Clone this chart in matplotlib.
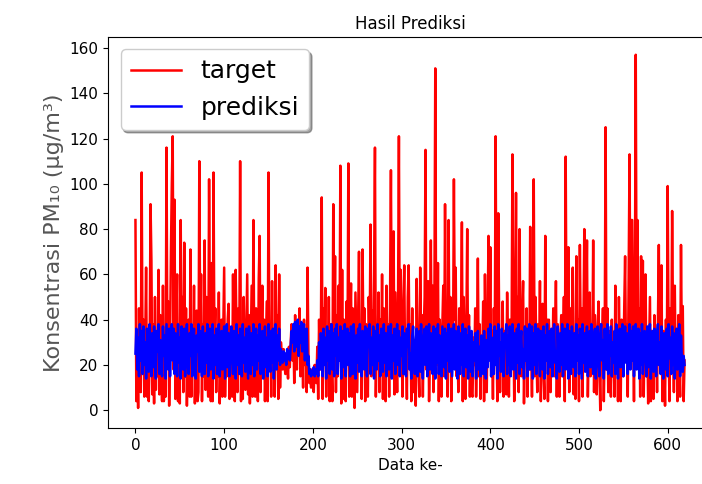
"hasil prediksi - target vs prediksi PM10"
import numpy as np
import matplotlib.pyplot as plt

"data (dibaca dari gambar)"
target = [
    84, 4, 30, 1, 45, 18, 8, 105, 22, 40, 6, 28, 63, 6, 35, 4, 25, 91, 66, 7,
    38, 3, 50, 9, 30, 15, 62, 7, 42, 20, 4, 55, 4, 33, 6, 116, 25, 48, 2, 30,
    70, 100, 121, 18, 93, 5, 40, 60, 4, 35, 3, 84, 22, 50, 8, 74, 15, 45, 2, 28,
    40, 6, 71, 6, 32, 18, 55, 3, 25, 44, 4, 8, 110, 30, 60, 4, 38, 15, 75, 9,
    50, 20, 6, 102, 35, 4, 65, 4, 105, 28, 45, 8, 30, 15, 52, 3, 24, 40, 6, 33,
    63, 6, 28, 15, 40, 47, 5, 22, 35, 6, 60, 18, 4, 62, 30, 8, 45, 20, 110, 4,
    38, 5, 50, 25, 9, 33, 60, 7, 42, 3, 28, 55, 6, 84, 20, 6, 45, 32, 4, 58,
    77, 8, 30, 55, 15, 40, 4, 25, 48, 4, 105, 22, 38, 6, 57, 18, 30, 6, 64, 25,
    42, 5, 60, 10, 30, 24, 18, 27, 20, 16, 25, 22, 14, 28, 19, 30, 38, 22, 35, 12,
    42, 25, 18, 38, 30, 45, 15, 35, 28, 10, 40, 20, 32, 8, 63, 25, 12, 15, 10, 18,
    14, 8, 20, 16, 12, 28, 5, 40, 18, 30, 94, 5, 45, 22, 54, 6, 35, 15, 50, 4,
    38, 20, 4, 91, 30, 68, 8, 42, 15, 55, 25, 108, 3, 62, 5, 40, 28, 4, 48, 20,
    109, 6, 35, 56, 6, 45, 25, 1, 52, 30, 8, 40, 70, 18, 36, 5, 71, 28, 45, 4,
    38, 22, 6, 50, 30, 82, 15, 44, 25, 60, 116, 6, 35, 20, 52, 8, 40, 18, 60, 5,
    45, 28, 4, 55, 20, 38, 6, 48, 106, 25, 40, 79, 7, 52, 30, 8, 45, 121, 20, 62,
    35, 6, 42, 64, 18, 30, 5, 50, 64, 22, 38, 4, 45, 8, 28, 15, 2, 58, 30, 20,
    6, 63, 25, 42, 6, 35, 50, 115, 18, 40, 57, 4, 30, 75, 22, 55, 8, 45, 151, 30,
    20, 65, 4, 40, 25, 6, 38, 55, 15, 91, 30, 45, 6, 84, 22, 50, 4, 35, 28, 102,
    40, 63, 15, 30, 8, 45, 22, 38, 83, 4, 50, 25, 5, 35, 80, 18, 42, 6, 28, 7,
    6, 32, 20, 45, 6, 28, 67, 15, 38, 5, 30, 22, 48, 4, 60, 25, 8, 40, 77, 30,
    72, 15, 35, 5, 45, 20, 121, 30, 4, 87, 40, 8, 28, 18, 48, 6, 35, 22, 7, 52,
    25, 6, 40, 18, 30, 113, 45, 4, 35, 96, 20, 50, 8, 80, 28, 15, 42, 57, 3, 30,
    22, 45, 6, 35, 18, 81, 28, 6, 40, 102, 15, 50, 25, 8, 38, 20, 57, 4, 30, 47,
    18, 5, 77, 25, 40, 4, 40, 30, 8, 35, 20, 45, 15, 28, 57, 6, 38, 22, 6, 32,
    42, 15, 28, 50, 4, 112, 30, 20, 72, 8, 45, 25, 38, 63, 7, 30, 5, 68, 22, 40,
    4, 73, 28, 45, 6, 35, 80, 18, 40, 75, 6, 30, 52, 15, 38, 22, 75, 8, 42, 25,
    7, 35, 48, 20, 0, 38, 28, 45, 4, 30, 125, 18, 45, 8, 35, 22, 6, 40, 15, 28,
    6, 55, 20, 35, 4, 50, 25, 4, 40, 30, 15, 45, 68, 22, 38, 6, 60, 113, 28, 84,
    84, 35, 4, 50, 157, 30, 84, 20, 45, 6, 68, 25, 66, 6, 40, 60, 15, 32, 3, 28,
    50, 4, 35, 22, 5, 42, 18, 30, 8, 38, 73, 20, 45, 64, 4, 35, 25, 2, 40, 18,
    99, 30, 4, 45, 22, 88, 38, 8, 55, 15, 30, 4, 42, 20, 6, 73, 25, 46, 4, 22,
]

prediksi = [
    25, 36, 18, 32, 15, 38, 22, 35, 16, 37, 20, 30, 14, 36, 24, 17, 38, 28, 15, 34,
    19, 37, 22, 14, 35, 26, 38, 16, 31, 20, 15, 37, 24, 33, 14, 38, 28, 18, 36, 15,
    30, 38, 22, 36, 16, 34, 27, 15, 38, 21, 32, 14, 37, 25, 18, 36, 15, 30, 38, 20,
    16, 34, 24, 38, 15, 29, 36, 19, 14, 33, 26, 38, 17, 35, 22, 15, 37, 28, 16, 34,
    21, 38, 15, 30, 36, 18, 25, 38, 14, 33, 20, 36, 16, 28, 38, 15, 24, 35, 18, 31,
    37, 14, 26, 38, 19, 34, 15, 30, 37, 22, 16, 35, 28, 14, 38, 20, 33, 16, 36, 24,
    15, 38, 21, 32, 17, 36, 25, 14, 37, 29, 16, 34, 20, 38, 15, 27, 36, 18, 33, 22,
    38, 16, 30, 35, 14, 24, 37, 19, 32, 15, 38, 26, 17, 35, 21, 36, 14, 30, 38, 18,
    33, 22, 36, 20, 27, 24, 21, 26, 22, 25, 20, 27, 23, 26, 22, 28, 35, 30, 38, 26,
    39, 28, 34, 40, 24, 37, 30, 39, 26, 35, 38, 22, 33, 36, 20, 24, 16, 18, 15, 17,
    16, 19, 15, 18, 16, 22, 15, 30, 18, 34, 26, 15, 36, 20, 32, 14, 37, 22, 35, 16,
    30, 38, 18, 34, 15, 36, 24, 38, 16, 32, 22, 37, 14, 35, 27, 19, 38, 15, 30, 36,
    20, 34, 15, 37, 25, 16, 38, 29, 14, 33, 21, 36, 17, 38, 24, 15, 35, 30, 18, 37,
    22, 15, 36, 28, 38, 16, 32, 20, 37, 14, 35, 25, 18, 38, 22, 33, 15, 36, 28, 17,
    38, 21, 34, 15, 30, 37, 18, 26, 38, 14, 33, 22, 36, 16, 29, 38, 20, 35, 15, 32,
    24, 37, 16, 34, 20, 15, 36, 28, 38, 18, 25, 14, 33, 37, 21, 16, 30, 36, 15, 27,
    35, 17, 38, 22, 14, 32, 36, 20, 37, 15, 29, 38, 18, 34, 24, 16, 37, 30, 14, 36,
    21, 38, 16, 33, 25, 15, 37, 28, 19, 36, 14, 34, 22, 38, 17, 30, 36, 15, 26, 38,
    18, 35, 23, 14, 37, 30, 16, 34, 20, 38, 15, 28, 36, 19, 33, 14, 37, 24, 17, 35,
    15, 30, 22, 34, 14, 26, 35, 18, 28, 15, 33, 20, 16, 35, 24, 14, 31, 19, 36, 22,
    38, 15, 32, 26, 16, 37, 20, 35, 14, 38, 24, 30, 17, 36, 22, 15, 34, 28, 38, 16,
    33, 20, 37, 15, 29, 38, 18, 34, 24, 14, 36, 21, 38, 16, 31, 35, 19, 27, 14, 37,
    22, 36, 15, 32, 38, 18, 26, 37, 14, 34, 20, 38, 16, 30, 36, 24, 15, 35, 28, 18,
    37, 14, 33, 22, 38, 16, 29, 35, 19, 36, 15, 31, 38, 21, 26, 14, 37, 24, 17, 34,
    20, 38, 15, 32, 36, 18, 27, 38, 14, 35, 23, 16, 37, 30, 19, 34, 15, 38, 22, 33,
    16, 36, 25, 14, 38, 21, 34, 17, 30, 37, 15, 28, 35, 19, 38, 24, 16, 33, 36, 14,
    29, 37, 20, 15, 34, 38, 22, 31, 14, 36, 26, 18, 38, 16, 33, 24, 37, 15, 30, 21,
    35, 16, 38, 27, 14, 32, 36, 19, 24, 38, 15, 30, 37, 21, 34, 16, 28, 38, 18, 35,
    22, 37, 15, 31, 38, 18, 26, 36, 14, 34, 20, 38, 16, 29, 35, 23, 15, 37, 19, 32,
    38, 14, 27, 35, 17, 36, 22, 15, 33, 38, 20, 30, 16, 37, 24, 14, 34, 28, 18, 36,
    15, 38, 23, 32, 16, 37, 20, 34, 14, 30, 36, 18, 26, 38, 15, 33, 22, 17, 24, 20,
]

x = np.arange(len(target))

fig = plt.figure(figsize=(7.02, 4.84), dpi=100)
ax = fig.add_axes([108/702, 56/484, 604/702, 391/484])

ax.plot(x, target, color='red', lw=1.8, label='target')
ax.plot(x, prediksi, color='blue', lw=1.8, label='prediksi')

ax.set_title('Hasil Prediksi', fontsize=12)
ax.set_xlabel('Data ke-', fontsize=11)
ax.set_ylabel('Konsentrasi PM₁₀ (μg/m³)', fontsize=16, color='#555555')
ax.set_xticks([0, 100, 200, 300, 400, 500, 600])
ax.set_yticks([0, 20, 40, 60, 80, 100, 120, 140, 160])
ax.tick_params(labelsize=11)
ax.legend(loc='upper left', fontsize=18, shadow=True)

plt.savefig('out.png', dpi=100)
